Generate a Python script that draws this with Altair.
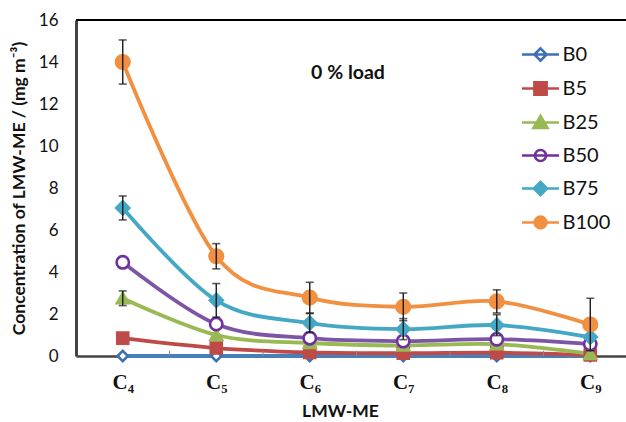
import json
import altair as alt
import pandas as pd

# ---- data ----
categories = ["C₄", "C₅", "C₆", "C₇", "C₈", "C₉"]
series = ["B0", "B5", "B25", "B50", "B75", "B100"]

b0 = [0, 0, 0, 0, 0, 0]
b5 = [0.85, 0.38, 0.17, 0.13, 0.16, 0.05]
b25 = [2.75, 1.0, 0.62, 0.5, 0.56, 0.1]
b50 = [4.46, 1.52, 0.85, 0.71, 0.8, 0.57]
b75 = [7.05, 2.65, 1.57, 1.28, 1.47, 0.9]
b100 = [14.0, 4.75, 2.78, 2.34, 2.6, 1.5]

err_b25 = [0.35, 0, 0, 0, 0, 0]
err_b75 = [0.57, 0.8, 0.45, 0.5, 0.5, 0]
err_b100 = [1.05, 0.6, 0.73, 0.66, 0.55, 1.25]

values = {"B0": b0, "B5": b5, "B25": b25, "B50": b50, "B75": b75, "B100": b100}
errors = {"B25": err_b25, "B75": err_b75, "B100": err_b100}

# ---- styles ----
line_colors = ["#4A7EBB", "#BE4B48", "#98B954", "#7D55A6", "#44A8C4", "#F29042"]
mark_stroke = ["#3F6FB5", "#BE4B48", "#98B954", "#7030A0", "#44A8C4", "#F29042"]
mark_fill = ["#FFFFFF", "#BE4B48", "#98B954", "#FFFFFF", "#44A8C4", "#F29042"]
mark_shape = ["diamond", "square", "triangle-up", "circle", "diamond", "circle"]
mark_size = [105, 185, 210, 165, 210, 185]

leg_line = "M-1,0H1"
leg_shapes = [
    leg_line + "M0,-0.33L0.33,0L0,0.33L-0.33,0Z",
    leg_line + "M-0.33,-0.33H0.33V0.33H-0.33Z",
    leg_line + "M0,-0.36L0.38,0.3L-0.38,0.3Z",
    leg_line + "M-0.3,0A0.3,0.3,0,1,0,0.3,0A0.3,0.3,0,1,0,-0.3,0Z",
    leg_line + "M0,-0.36L0.36,0L0,0.36L-0.36,0Z",
    leg_line + "M-0.32,0A0.32,0.32,0,1,0,0.32,0A0.32,0.32,0,1,0,-0.32,0Z",
]

FONT = "Lato"

rows = []
for s in series:
    for i, v in enumerate(values[s]):
        rows.append({"series": s, "order": series.index(s), "idx": i, "value": v})
df = pd.DataFrame(rows)

err_rows = []
for s, errs in errors.items():
    for i, e in enumerate(errs):
        if e > 0:
            v = values[s][i]
            err_rows.append({"series": s, "idx": i, "value": v - e, "hi": v + e})
edf = pd.DataFrame(err_rows)

bdf = pd.DataFrame({"idx": [i + 0.5 for i in range(len(categories) - 1)], "value": 0.0, "hi": 0.25})

W, H = 550, 336
xscale = alt.Scale(domain=[-0.5, 5.382], nice=False, zero=False)
yscale = alt.Scale(domain=[0, 16], nice=False)

label_expr = json.dumps(categories, ensure_ascii=False) + "[datum.value]"

x_axis = alt.Axis(
    values=list(range(len(categories))), labelExpr=label_expr, title="LMW-ME",
    tickSize=0, grid=False, domainColor="#444444", domainWidth=2.5,
    labelFont="Liberation Serif", labelFontWeight="bold", labelFontSize=21,
    labelColor="#111111", labelPadding=15,
    titleFont=FONT, titleFontWeight="bold", titleFontSize=17.5, titleColor="#111111",
    titleX=264, titleY=55, titleBaseline="middle", titleAlign="center",
)
y_axis = alt.Axis(
    values=list(range(0, 17, 2)), title="Concentration of LMW-ME / (mg m⁻³)",
    tickSize=0, grid=False, domainColor="#444444", domainWidth=3,
    labelFont=FONT, labelFontSize=17, labelColor="#111111", labelPadding=18,
    titleFont=FONT, titleFontWeight="bold", titleFontSize=17.5, titleColor="#111111",
    titleX=-57, titleY=168, titleAngle=270, titleBaseline="middle", titleAlign="center",
)

X = alt.X("idx:Q", scale=xscale, axis=x_axis)
Y = alt.Y("value:Q", scale=yscale, axis=y_axis)

base = alt.Chart(df)

lines = base.mark_line(interpolate="cardinal", strokeWidth=3.8).encode(
    x=X, y=Y,
    color=alt.Color("series:N", scale=alt.Scale(domain=series, range=line_colors), legend=None),
    order="order:Q",
)

points = base.mark_point(strokeWidth=2.6, opacity=1).encode(
    x=X, y=Y,
    shape=alt.Shape("series:N", scale=alt.Scale(domain=series, range=mark_shape), legend=None),
    fill=alt.Fill("series:N", scale=alt.Scale(domain=series, range=mark_fill), legend=None),
    stroke=alt.Stroke("series:N", scale=alt.Scale(domain=series, range=mark_stroke), legend=None),
    size=alt.Size("series:N", scale=alt.Scale(domain=series, range=mark_size), legend=None),
    order="order:Q",
)

err_rule = alt.Chart(edf).mark_rule(color="#1a1a1a", strokeWidth=1.4).encode(
    x=X, y=Y, y2="hi:Q",
)
cap_hi = alt.Chart(edf).mark_tick(color="#1a1a1a", orient="horizontal", size=8, thickness=1.6).encode(
    x=X, y=alt.Y("hi:Q", scale=yscale, axis=y_axis),
)
cap_lo = alt.Chart(edf).mark_tick(color="#1a1a1a", orient="horizontal", size=8, thickness=1.6).encode(
    x=X, y=Y,
)

btick = alt.Chart(bdf).mark_rule(color="#888888", strokeWidth=1).encode(
    x=X, y=Y, y2="hi:Q",
)

top_line = alt.Chart(alt.Data(values=[{"a": 1}])).mark_rule(color="#000000", strokeWidth=2.2).encode(
    x=alt.value(0), x2=alt.value(W), y=alt.value(0)
)

note = alt.Chart(alt.Data(values=[{"t": "0 % load"}])).mark_text(
    font=FONT, fontWeight="bold", fontSize=19.5, color="#111111", align="center", baseline="middle"
).encode(x=alt.value(272), y=alt.value(53), text="t:N")

leg = alt.Legend(title=None, orient="none", legendX=444.5, legendY=14.5,
                 symbolSize=1369, symbolStrokeWidth=2.6,
                 labelFont=FONT, labelFontSize=20, labelColor="#111111",
                 labelOffset=2, rowPadding=2)

legend_layer = base.transform_filter("datum.value < -100").mark_point(opacity=1, strokeWidth=2.6).encode(
    x=X, y=Y,
    shape=alt.Shape("series:N", scale=alt.Scale(domain=series, range=leg_shapes), legend=leg),
    fill=alt.Fill("series:N", scale=alt.Scale(domain=series, range=mark_fill), legend=leg),
    stroke=alt.Stroke("series:N", scale=alt.Scale(domain=series, range=mark_stroke), legend=leg),
)

chart = alt.layer(
    lines, points, err_rule, cap_hi, cap_lo, btick, top_line, note, legend_layer
).resolve_scale(
    shape="independent", fill="independent", stroke="independent"
).properties(
    width=W, height=H,
    autosize=alt.AutoSizeParams(type="none"),
    padding={"left": 76, "top": 20, "right": 0, "bottom": 66},
).configure_view(stroke=None).configure(background="white")

chart.save("out.html", embed_options={"renderer": "svg", "actions": False})
